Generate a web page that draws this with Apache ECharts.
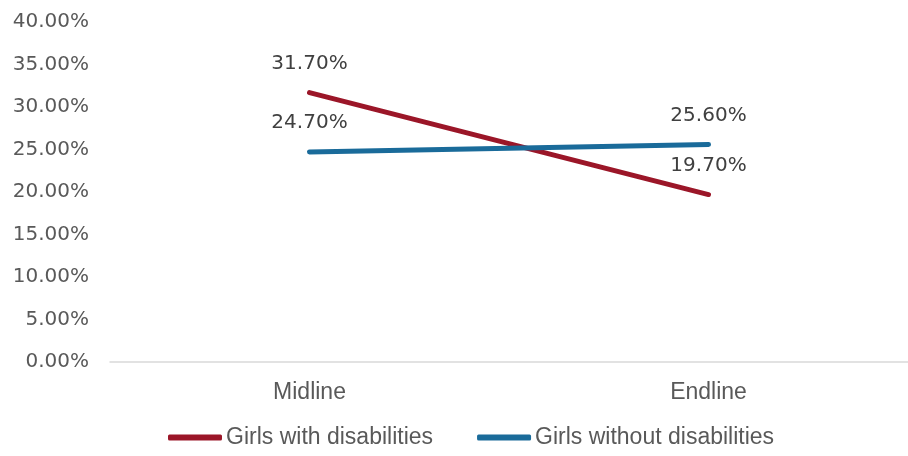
<!DOCTYPE html>
<html>
<head>
<meta charset="utf-8">
<style>
  html, body { margin: 0; padding: 0; background: #ffffff; }
  #chart { width: 908px; height: 456px; }
</style>
<script src="https://cdn.jsdelivr.net/npm/echarts@6/dist/echarts.min.js"></script>
</head>
<body>
<div id="chart"></div>
<script>
// Survey rounds on the category axis
const rounds = ['Midline', 'Endline'];
// Share of girls (percent) per round
const withDisabilities = [31.7, 19.7];
const withoutDisabilities = [24.7, 25.6];
// Y axis range and step (percent)
const yMin = 0;
const yMax = 40;
const yStep = 5;

const numFont = 'DejaVu Sans';
const textFont = 'Liberation Sans';

const chart = echarts.init(document.getElementById('chart'), null, { renderer: 'canvas' });

function lineSeries(name, data, color) {
  return {
    name: name,
    type: 'line',
    data: data,
    showSymbol: true,
    symbol: 'circle',
    symbolSize: 0,
    lineStyle: { color: color, width: 5, cap: 'round' },
    itemStyle: { color: color },
    label: {
      show: true,
      position: 'top',
      distance: 19,
      fontFamily: numFont,
      fontSize: 20,
      color: '#404040',
      formatter: p => p.value.toFixed(2) + '%'
    },
    emphasis: { disabled: true },
    animation: false
  };
}

chart.setOption({
  animation: false,
  // plot area runs slightly past the right edge of the canvas
  grid: { left: 110, width: 804, top: 22, bottom: 94, containLabel: false },
  legend: {
    bottom: 2,
    left: 163,
    itemGap: 44,
    itemWidth: 54,
    itemHeight: 6,
    icon: 'roundRect',
    textStyle: { fontFamily: textFont, fontSize: 23, color: '#595959', padding: [0, 0, 0, -1] },
    data: ['Girls with disabilities', 'Girls without disabilities']
  },
  xAxis: {
    type: 'category',
    data: rounds,
    boundaryGap: true,
    axisLine: { show: true, lineStyle: { color: '#d9d9d9', width: 1.5 } },
    axisTick: { show: false },
    axisLabel: { fontFamily: textFont, fontSize: 23, color: '#595959', margin: 19 },
    splitLine: { show: false }
  },
  yAxis: {
    type: 'value',
    min: yMin,
    max: yMax,
    interval: yStep,
    axisLine: { show: false },
    axisTick: { show: false },
    splitLine: { show: false },
    axisLabel: {
      fontFamily: numFont,
      fontSize: 20,
      color: '#595959',
      margin: 21,
      formatter: v => v.toFixed(2) + '%'
    }
  },
  series: [
    lineSeries('Girls with disabilities', withDisabilities, '#9b1628'),
    lineSeries('Girls without disabilities', withoutDisabilities, '#1a6b9a')
  ]
});
</script>
</body>
</html>
